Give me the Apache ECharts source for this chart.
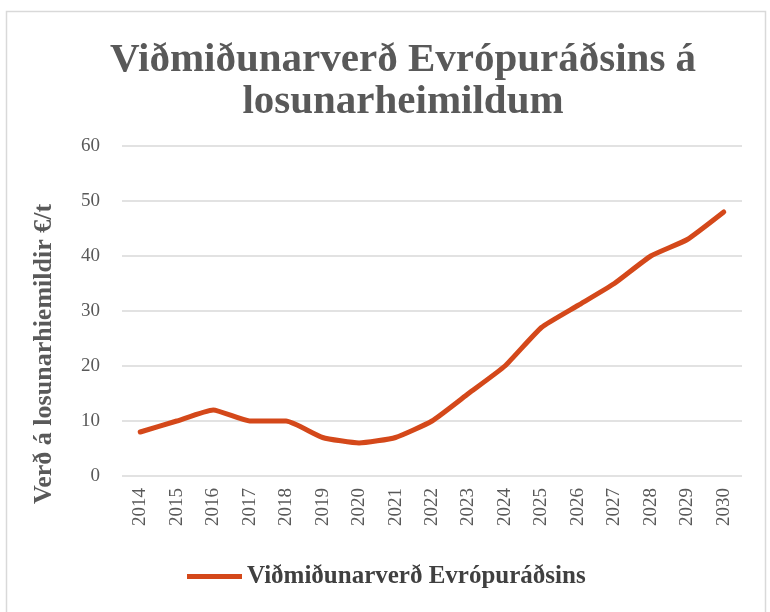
<!DOCTYPE html>
<html>
<head>
<meta charset="utf-8">
<script src="https://cdn.jsdelivr.net/npm/echarts@6/dist/echarts.min.js"></script>
<style>
  html, body { margin: 0; padding: 0; background: #fff; }
  #chart { width: 770px; height: 612px; }
</style>
</head>
<body>
<div id="chart"></div>
<script>
// ár og verð (€/t)
var years = ['2014','2015','2016','2017','2018','2019','2020','2021','2022',
             '2023','2024','2025','2026','2027','2028','2029','2030'];
var prices = [8, 10, 12, 10, 10, 7, 6, 7, 10, 15, 20, 27, 31, 35, 40, 43, 48];
var seriesName = 'Viðmiðunarverð Evrópuráðsins';
var yTicks = [0, 10, 20, 30, 40, 50, 60];

var serif = 'Liberation Serif';
var myChart = echarts.init(document.getElementById('chart'));

myChart.setOption({
    backgroundColor: '#fff',
    animation: false,
    textStyle: { fontFamily: serif },
    title: {
        text: 'Viðmiðunarverð Evrópuráðsins á\nlosunarheimildum',
        left: 398,
        textAlign: 'center',
        top: 34,
        textStyle: {
            fontFamily: serif,
            fontSize: 41,
            fontWeight: 'bold',
            color: '#595959',
            lineHeight: 42
        }
    },
    graphic: [
        {
            type: 'rect',
            shape: { x: 6.5, y: 11.5, width: 759, height: 620 },
            style: { fill: 'none', stroke: '#d9d9d9', lineWidth: 1.5 },
            silent: true
        },
        {
            type: 'text',
            x: 44,
            y: 354,
            rotation: Math.PI / 2,
            style: {
                text: 'Verð á losunarhiemildir €/t',
                font: 'bold 26px "Liberation Serif"',
                fill: '#595959',
                align: 'center',
                verticalAlign: 'middle'
            }
        }
    ],
    legend: {
        data: [seriesName],
        bottom: 18,
        left: 182,
        icon: 'rect',
        itemWidth: 55,
        itemHeight: 5,
        itemGap: 4,
        textStyle: {
            fontFamily: serif,
            fontSize: 25,
            fontWeight: 'bold',
            color: '#404040'
        }
    },
    grid: {
        left: 122,
        right: 28,
        top: 146,
        bottom: 136
    },
    xAxis: {
        type: 'category',
        data: years,
        boundaryGap: true,
        axisLine: { show: false },
        axisTick: { show: false },
        axisLabel: {
            rotate: 90,
            margin: 12,
            fontFamily: serif,
            fontSize: 19,
            color: '#595959'
        }
    },
    yAxis: {
        type: 'value',
        min: yTicks[0],
        max: yTicks[yTicks.length - 1],
        interval: 10,
        axisLine: { show: false },
        axisTick: { show: false },
        axisLabel: {
            margin: 22,
            fontFamily: serif,
            fontSize: 19,
            color: '#595959'
        },
        splitLine: { lineStyle: { color: '#d9d9d9', width: 1.5 } }
    },
    series: [
        {
            name: seriesName,
            type: 'line',
            data: prices,
            smooth: 0.15,
            symbol: 'none',
            lineStyle: { color: '#d4481a', width: 5, cap: 'round' },
            itemStyle: { color: '#d4481a' }
        }
    ]
});
</script>
</body>
</html>
